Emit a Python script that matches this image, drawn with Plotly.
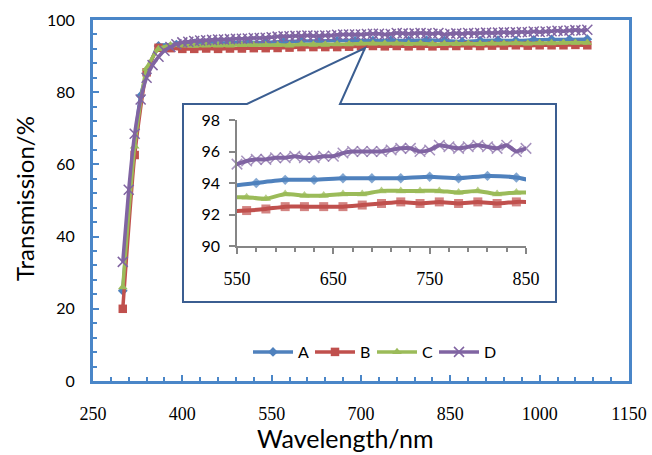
import plotly.graph_objects as go

# ---------------- data ----------------
wl_A = list(range(300, 1081, 30))
A = [25, 79, 92.8, 93.2, 93.5, 93.6, 93.7, 93.8, 93.8,
     94.0, 94.2, 94.2, 94.3, 94.3, 94.3, 94.4, 94.3, 94.45, 94.35,
     94.0, 94.3, 94.4, 94.3, 94.5, 94.6, 94.6, 94.7]

wl_BC = list(range(300, 1081, 20))
B = [20, 62.6, 85.5, 92.3, 92.2, 92.0, 92.0, 92.1, 92.0, 92.1, 92.1, 92.2, 92.2,
     92.25, 92.35, 92.5, 92.5, 92.5, 92.5, 92.6, 92.7, 92.8, 92.7, 92.8, 92.7, 92.8, 92.7, 92.8,
     92.8, 92.9, 92.8, 92.9, 92.9, 93.0, 92.9, 93.0, 93.0, 93.0, 93.1, 93.0]
C = [26, 65, 86.5, 92.0, 93.0, 93.0, 92.9, 93.0, 93.0, 93.0, 93.1, 93.1, 93.1,
     93.1, 93.0, 93.3, 93.2, 93.2, 93.3, 93.3, 93.5, 93.5, 93.5, 93.5, 93.4, 93.5, 93.3, 93.4,
     93.4, 93.5, 93.4, 93.5, 93.5, 93.6, 93.5, 93.6, 93.6, 93.7, 93.7, 93.7]

wl_D = list(range(300, 1081, 10))
D = [33, 53, 68.5, 78, 84, 87.5, 89.8, 91.5, 92.5, 93.3, 93.8, 94.0, 94.2, 94.3, 94.4,
     94.5, 94.6, 94.6, 94.7, 94.8, 94.8, 94.9, 95.0, 95.0, 95.1,
     95.2, 95.4, 95.5, 95.5, 95.6, 95.6, 95.7, 95.6, 95.6, 95.7, 95.7,
     95.9, 96.0, 96.0, 96.0, 96.0, 96.1, 96.2, 96.2, 96.0, 96.1,
     96.4, 96.3, 96.2, 96.3, 96.4, 96.3, 96.2, 96.4, 96.0, 96.2,
     96.3, 96.2, 96.4, 96.3, 96.4, 96.5, 96.4, 96.5, 96.6, 96.5, 96.6, 96.7,
     96.6, 96.8, 96.7, 96.8, 96.9, 97.0, 96.9, 97.1, 97.2, 97.1, 97.3]

names = ["A", "B", "C", "D"]
main_xticks = [250, 400, 550, 700, 850, 1000, 1150]
main_yticks = [0, 20, 40, 60, 80, 100]
inset_xticks = [550, 650, 750, 850]
inset_yticks = [90, 92, 94, 96, 98]
inset_range = [550, 850]

# ---------------- style ----------------
W, H = 652, 455
def px(x): return x / W
def py(y): return 1 - y / H

colors = ["#4F81BD", "#C0504D", "#9BBB59", "#8064A2"]
symbols = ["diamond", "square", "triangle-up", "x-thin-open"]
msizes = [7.5, 8.5, 8.5, 10]
AXC = "#4A86C8"
GRAY = "#868686"
SANS = "Lato, Liberation Sans, sans-serif"
SERIF = "Liberation Serif, serif"

series = [(wl_A, A), (wl_BC, B), (wl_BC, C), (wl_D, D)]

fig = go.Figure()
for (xs, ys), name, col, sym, ms in zip(series, names, colors, symbols, msizes):
    mk = dict(symbol=sym, size=ms, color=col, line=dict(color=col, width=1.5 if sym.startswith("x") else 0))
    fig.add_trace(go.Scatter(x=xs, y=ys, name=name, mode="lines+markers",
                             line=dict(color=col, width=3.5, shape="spline", smoothing=0.5),
                             marker=mk, xaxis="x", yaxis="y"))
for (xs, ys), name, col, sym, ms in zip(series, names, colors, symbols, msizes):
    sizes = [ms + 0.5 if inset_range[0] <= v <= inset_range[1] else 0 for v in xs]
    mk = dict(symbol=sym, size=sizes, color=col, line=dict(color=col, width=1.5 if sym.startswith("x") else 0))
    fig.add_trace(go.Scatter(x=xs, y=ys, name=name, mode="lines+markers", showlegend=False,
                             line=dict(color=col, width=4, shape="spline", smoothing=0.5),
                             marker=mk, cliponaxis=False, xaxis="x2", yaxis="y2"))

fig.update_layout(
    width=W, height=H, autosize=False,
    margin=dict(l=0, r=0, t=0, b=0, pad=0, autoexpand=False),
    paper_bgcolor="white", plot_bgcolor="white",
    showlegend=True,
    legend=dict(orientation="h", x=px(248), y=py(352), xanchor="left", yanchor="middle",
                font=dict(family=SANS, size=16, color="black"), bgcolor="rgba(0,0,0,0)",
                itemwidth=40, entrywidth=7, entrywidthmode="pixels", traceorder="normal"),
    xaxis=dict(domain=[px(93), px(629)], range=[250, 1150], tickvals=main_xticks,
               ticks="inside", ticklen=6, tickwidth=1.5, tickcolor=AXC,
               showline=True, linecolor=AXC, linewidth=3, mirror=True,
               showgrid=False, zeroline=False, ticklabelstandoff=14, automargin=False,
               tickfont=dict(family=SERIF, size=18, color="black"),
               minor=dict(dtick=30, tick0=250, ticks="inside", ticklen=4, tickwidth=1.5, tickcolor=AXC),
               anchor="y"),
    yaxis=dict(domain=[py(381), py(20)], range=[0, 100], tickvals=main_yticks,
               ticks="inside", ticklen=6, tickwidth=1.5, tickcolor=AXC,
               showline=True, linecolor=AXC, linewidth=3, mirror=True,
               showgrid=False, zeroline=False, ticklabelstandoff=12, automargin=False,
               tickfont=dict(family=SANS, size=16, color="black"),
               minor=dict(dtick=4, tick0=0, ticks="inside", ticklen=4, tickwidth=1.5, tickcolor=AXC),
               anchor="x"),
    xaxis2=dict(domain=[px(237), px(526)], range=inset_range, tickvals=inset_xticks,
                ticks="outside", ticklen=6, tickwidth=1.5, tickcolor=GRAY,
                showline=True, linecolor=GRAY, linewidth=1.5,
                showgrid=False, zeroline=False, ticklabelstandoff=10, automargin=False,
                tickfont=dict(family=SERIF, size=18, color="black"),
                minor=dict(dtick=20, tick0=550, ticks="outside", ticklen=4, tickwidth=1.5, tickcolor=GRAY),
                anchor="y2"),
    yaxis2=dict(domain=[py(246), py(120)], range=[90, 98], tickvals=inset_yticks,
                ticks="outside", ticklen=6, tickwidth=1.5, tickcolor=GRAY,
                showline=True, linecolor=GRAY, linewidth=1.5,
                showgrid=False, zeroline=False, ticklabelstandoff=6, automargin=False,
                tickfont=dict(family=SANS, size=16, color="black"),
                anchor="x2"),
)

pts = [(183, 104), (247, 104), (365, 48), (340, 104), (556, 104), (556, 302), (183, 302)]
path = "M " + " L ".join(f"{px(x):.5f},{py(y):.5f}" for x, y in pts) + " Z"
fig.add_shape(type="path", path=path, xref="paper", yref="paper",
              line=dict(color="#3B5E91", width=2), fillcolor="rgba(0,0,0,0)", layer="above")

fig.add_annotation(text="Transmission/%", x=px(24), y=py(199), xref="paper", yref="paper",
                   xanchor="center", yanchor="middle",
                   showarrow=False, textangle=-90, font=dict(family=SANS, size=24, color="black"))
fig.add_annotation(text="Wavelength/nm", x=px(345), y=py(438), xref="paper", yref="paper",
                   xanchor="center", yanchor="middle",
                   showarrow=False, font=dict(family=SANS, size=25, color="black"))

fig.write_html("out.html")
